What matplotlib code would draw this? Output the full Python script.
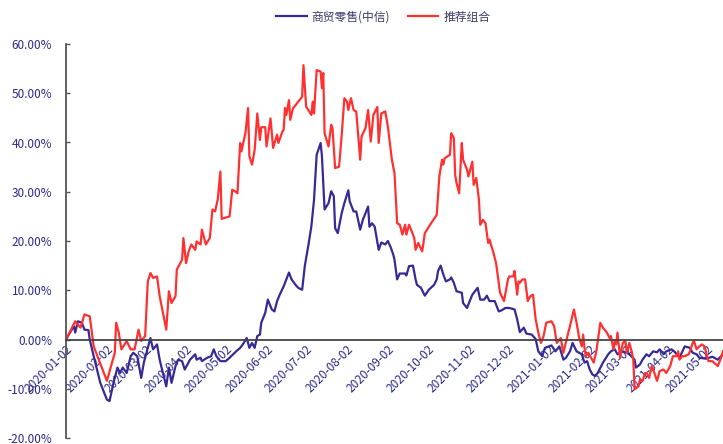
import numpy as np
import pandas as pd
import matplotlib.pyplot as plt
import matplotlib.dates as mdates
from matplotlib.ticker import FuncFormatter

plt.rcParams['font.family'] = ['Noto Sans CJK SC', 'DejaVu Sans']

# ---- data, days counted from 2020-01-02 ----
start = pd.Timestamp('2020-01-02')

red_days = [0, 7, 11, 14, 18, 21, 31, 37, 38, 40, 42, 46, 49, 52, 55, 57, 60, 62, 64, 66,
            69, 71, 76, 78, 80, 83, 84, 88, 89, 91, 93, 95, 98, 99, 102, 103, 104, 106, 109, 111,
            113, 115, 117, 118, 124, 126, 128, 130, 132, 133, 134, 136, 138, 139, 141, 143, 145, 147, 148, 151,
            152, 155, 157, 160, 161, 164, 165, 166, 167, 169, 170, 172, 179, 180, 182, 186, 187, 188, 190, 193,
            194, 195, 196, 199, 201, 202, 204, 207, 209, 211, 213, 214, 216, 218, 220, 223, 224, 227, 229, 231,
            233, 236, 237, 239, 242, 244, 247, 249, 251, 253, 255, 257, 258, 260, 262, 264, 265, 267, 270, 272,
            276, 281, 283, 285, 286, 287, 291, 292, 294, 295, 296, 298, 300, 301, 304, 305, 308, 309, 311, 313,
            314, 316, 318, 320, 321, 324, 326, 329, 332, 335, 336, 339, 340, 342, 343, 344, 346, 348, 350, 352,
            354, 356, 358, 360, 362, 364, 368, 370, 372, 375, 377, 381, 382, 385, 387, 389, 391, 392, 393, 394,
            396, 400, 402, 405, 407, 410, 412, 413, 415, 416, 417, 418, 420, 422, 424, 425, 427, 429, 430, 431,
            434, 435, 437, 439, 440, 442, 444, 446, 448, 450, 453, 455, 458, 460, 463, 464, 465, 467, 469, 472,
            473, 475, 476, 478, 480, 482, 484, 487, 490, 494, 496, 498]
red_vals = [0.0, 3.7, 2.4, 5.1, 4.7, -1.4, -8.4, -2.7, 3.4, 1.4, -2.0, -0.3, -2.0, -2.0, 2.0, -0.3, 0.7, 11.8, 13.5, 12.5,
            12.8, 8.8, 2.0, 9.8, 7.4, 8.8, 14.2, 16.2, 20.6, 15.5, 17.9, 19.3, 18.2, 19.9, 19.3, 22.3, 21.3, 19.3, 20.6, 26.4,
            26.0, 28.4, 34.1, 24.5, 25.0, 30.4, 30.1, 29.7, 39.9, 38.2, 39.5, 41.9, 47.0, 37.2, 35.5, 38.5, 45.9, 40.5, 43.1, 43.1,
            39.2, 44.9, 38.9, 41.6, 39.9, 42.2, 42.6, 47.0, 45.6, 48.6, 44.6, 46.9, 49.3, 55.7, 47.3, 45.6, 48.3, 45.9, 54.7, 54.4,
            51.0, 54.1, 41.9, 39.2, 43.6, 42.9, 34.8, 35.1, 41.6, 49.0, 48.3, 46.6, 49.0, 46.6, 46.3, 36.5, 41.2, 42.9, 46.6, 40.2,
            45.6, 47.2, 39.9, 45.9, 46.3, 43.2, 36.5, 33.8, 23.6, 23.3, 21.3, 23.3, 21.3, 23.3, 22.0, 20.6, 18.2, 19.6, 17.9, 21.6,
            23.3, 25.3, 33.1, 36.5, 35.5, 36.8, 37.5, 41.9, 40.9, 33.4, 31.8, 29.7, 39.9, 36.5, 34.5, 33.1, 36.1, 31.4, 32.8, 28.4,
            23.3, 24.3, 23.6, 19.6, 20.3, 17.6, 15.5, 9.5, 7.8, 12.2, 12.8, 12.8, 13.9, 9.1, 11.8, 11.5, 12.2, 12.2, 7.8, 8.8,
            9.1, 4.1, 1.4, -0.7, 0.7, 3.4, 3.7, 2.7, -0.7, 0.3, -2.7, 1.7, 2.7, 6.1, 3.4, 0.3, -1.4, 1.0, -1.7, -3.4,
            -2.7, -4.7, -2.4, 3.4, 2.4, 1.4, 0.3, 0.7, -2.0, -0.3, -1.0, 1.4, -3.7, -0.7, -0.3, -2.7, -0.7, -2.7, -4.1, -10.1,
            -9.5, -8.1, -8.4, -6.8, -6.8, -7.8, -5.4, -6.8, -8.4, -6.4, -6.1, -6.8, -5.4, -3.4, -3.4, -2.4, -4.1, -3.4, -3.4, -3.0,
            -2.4, -0.7, -0.3, -2.0, -1.4, -1.0, -1.4, -4.4, -4.4, -5.4, -4.1, -2.4]

blue_days = [0, 3, 6, 7, 9, 12, 14, 17, 18, 21, 26, 31, 33, 36, 39, 41, 43, 46, 49, 51,
             54, 57, 59, 61, 64, 66, 69, 71, 74, 76, 78, 80, 83, 85, 88, 90, 94, 98, 99, 102,
             103, 107, 110, 112, 114, 117, 121, 124, 129, 132, 134, 137, 139, 141, 143, 145, 147, 148, 151, 153,
             156, 158, 160, 162, 165, 166, 167, 169, 171, 174, 176, 179, 181, 184, 186, 188, 190, 193, 194, 196,
             199, 201, 203, 204, 206, 209, 211, 214, 215, 218, 220, 223, 225, 229, 230, 232, 234, 237, 239, 242,
             244, 246, 248, 249, 251, 253, 257, 258, 260, 263, 265, 266, 269, 272, 275, 279, 281, 282, 284, 286,
             288, 291, 292, 294, 296, 300, 301, 304, 306, 308, 310, 312, 314, 317, 319, 321, 325, 328, 330, 333,
             336, 340, 342, 344, 347, 349, 353, 356, 358, 361, 363, 368, 371, 374, 377, 379, 382, 384, 387, 391,
             393, 395, 397, 399, 401, 403, 407, 411, 413, 416, 418, 422, 425, 427, 431, 432, 435, 437, 440, 442,
             445, 448, 450, 453, 455, 459, 461, 465, 469, 473, 475, 478, 480, 485, 490, 494, 498]
blue_vals = [0.0, 1.4, 2.7, 1.4, 3.7, 3.4, 2.0, 1.9, 0.0, -3.4, -8.8, -12.2, -12.5, -8.8, -5.7, -6.8, -5.7, -6.8, -3.4, -2.7,
             -3.4, -7.8, -4.7, -2.7, 0.3, -2.0, -1.0, -4.1, -7.4, -9.5, -5.7, -8.8, -5.4, -4.1, -4.4, -6.1, -4.1, -3.0, -4.1, -3.7,
             -4.4, -3.7, -3.4, -2.0, -3.4, -4.4, -4.4, -3.7, -2.4, -1.7, -1.0, 0.3, -1.7, -0.7, -1.7, 0.7, 1.0, 3.4, 5.4, 8.1,
             6.1, 5.7, 7.8, 9.1, 10.8, 11.5, 12.2, 13.6, 12.2, 11.1, 10.5, 10.1, 14.9, 19.6, 23.0, 28.4, 37.5, 39.9, 37.2, 26.4,
             27.7, 30.1, 29.1, 22.6, 21.6, 25.7, 27.7, 30.3, 28.1, 26.0, 26.0, 22.3, 24.3, 27.0, 22.9, 23.6, 22.9, 18.2, 19.7, 19.3,
             20.0, 18.8, 17.3, 16.2, 12.2, 13.4, 13.4, 13.0, 14.9, 15.0, 12.2, 11.1, 10.5, 8.9, 10.1, 11.1, 12.2, 13.9, 15.0, 13.2,
             11.8, 12.2, 12.6, 11.5, 9.8, 9.5, 7.4, 6.4, 7.8, 9.1, 9.8, 10.5, 8.1, 8.1, 8.9, 7.8, 7.8, 5.7, 5.9, 6.4,
             6.4, 6.1, 4.1, 1.5, 2.4, 1.2, 1.0, 0.1, -2.4, -3.4, -1.7, -1.2, -2.4, -1.4, -4.1, -3.7, -2.4, -0.7, -2.4, -3.0,
             -4.7, -4.4, -6.1, -7.1, -7.4, -6.8, -4.7, -3.0, -2.4, -2.0, -3.0, -2.4, -2.7, -3.0, -4.1, -5.7, -5.1, -4.1, -3.0, -3.4,
             -2.4, -2.6, -2.0, -3.0, -2.4, -2.0, -2.4, -3.7, -1.4, -1.7, -2.7, -3.0, -3.7, -3.9, -3.5, -4.1, -3.0]

tick_labels = ['2020-01-02', '2020-02-02', '2020-03-02', '2020-04-02', '2020-05-02', '2020-06-02',
               '2020-07-02', '2020-08-02', '2020-09-02', '2020-10-02', '2020-11-02', '2020-12-02',
               '2021-01-02', '2021-02-02', '2021-03-02', '2021-04-02', '2021-05-02']

series_names = ['商贸零售(中信)', '推荐组合']
blue_col = '#352a96'
red_col = '#ff3030'
label_col = '#2a2a8a'

red_dates = start + pd.to_timedelta(red_days, unit='D')
blue_dates = start + pd.to_timedelta(blue_days, unit='D')

fig = plt.figure(figsize=(7.23, 4.44), dpi=100)
ax = fig.add_axes([66 / 723, 1 - 438 / 444, 1 - 66 / 723, 394 / 444])

ax.plot(blue_dates, blue_vals, color=blue_col, lw=1.6, label=series_names[0])
ax.plot(red_dates, red_vals, color=red_col, lw=1.6, label=series_names[1])

ax.set_ylim(-20, 60)
ax.set_yticks(np.arange(-20, 61, 10))
ax.yaxis.set_major_formatter(FuncFormatter(lambda v, p: '%.2f%%' % v))
ax.set_xlim(start, start + pd.Timedelta(days=498))

ax.spines['top'].set_visible(False)
ax.spines['right'].set_visible(False)
ax.spines['bottom'].set_position(('data', 0))
ax.spines['bottom'].set_color('#444444')
ax.spines['bottom'].set_linewidth(1.3)
ax.spines['left'].set_color('#555555')
ax.spines['left'].set_linewidth(1.3)

ax.tick_params(axis='x', length=0, pad=2, labelsize=8.5, labelcolor=label_col)
ax.tick_params(axis='y', direction='in', length=3, width=1, color='#555555',
               pad=10, labelsize=8.5, labelcolor=label_col)

# rotated date labels, hanging from the zero line
ticks = pd.to_datetime(tick_labels)
ax.set_xticks(ticks)
ax.set_xticklabels(tick_labels)
for lab in ax.get_xticklabels():
    lab.set_rotation(45)
    lab.set_ha('right')
    lab.set_va('top')
    lab.set_rotation_mode('anchor')

leg = fig.legend(loc='upper center', bbox_to_anchor=(0.53, 1.0), ncol=2, frameon=False,
                 fontsize=8.5, handlelength=2.6, columnspacing=1.5, handletextpad=0.4)
for t in leg.get_texts():
    t.set_color('#3a3a6a')

fig.savefig('out.png', dpi=100)
